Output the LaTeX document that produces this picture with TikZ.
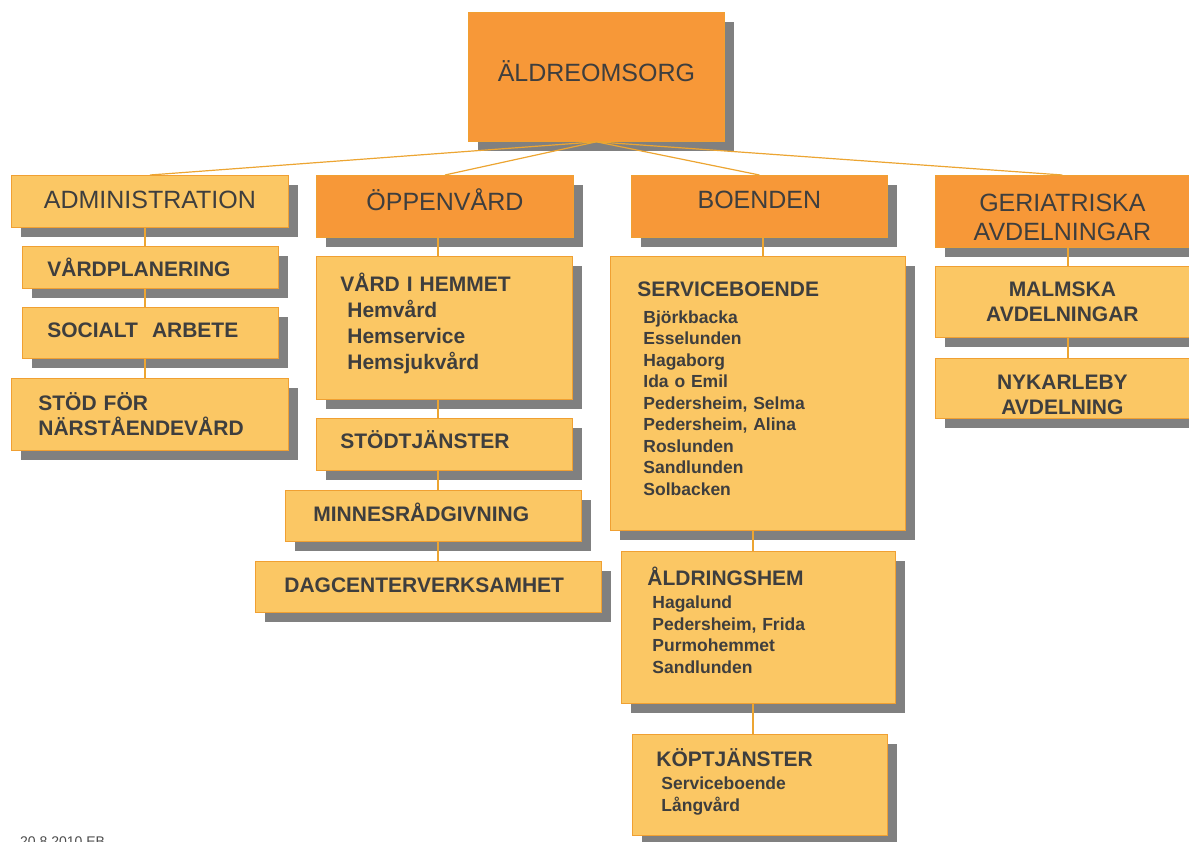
\documentclass[tikz,border=0pt]{standalone}
\usepackage{fontspec}
\setmainfont{Liberation Sans}
\usetikzlibrary{shadows}
\definecolor{darkor}{RGB}{247,152,56}
\definecolor{lightor}{RGB}{251,199,100}
\definecolor{boxline}{RGB}{240,160,50}
\definecolor{linkor}{RGB}{236,165,50}
\definecolor{shade}{RGB}{128,128,128}
\definecolor{txt}{RGB}{62,62,62}
\tikzset{
  box/.style={draw=boxline, line width=0.8pt, text=txt, anchor=north west, inner ysep=0pt,
    drop shadow={shadow xshift=10pt, shadow yshift=-10pt, fill=shade, opacity=1}},
  head/.style={box, fill=darkor, align=center, font=\fontsize{25}{29}\selectfont},
  lhead/.style={head, fill=lightor},
  unit/.style={box, fill=lightor, align=left, font=\fontsize{21}{25}\selectfont\bfseries},
  list/.style={unit, font=\fontsize{17.5}{21.5}\selectfont\bfseries},
  link/.style={draw=linkor, line width=1.2pt},
}
\newcommand{\listhead}[1]{{\fontsize{21}{25}\selectfont #1}}
\newcommand{\lowstrut}[1]{\rule[-#1]{0pt}{#1}}
\begin{document}
\begin{tikzpicture}[x=1pt, y=-1pt]
    \useasboundingbox (0,0) rectangle (1189,841);
    % top level
    \node[head, minimum width=256pt, minimum height=129pt, text depth=12pt] (aldre) at (468,12) {ÄLDREOMSORG};
    \node[lhead, minimum width=277pt, minimum height=52pt, text depth=4pt] (adm) at (11,175) {ADMINISTRATION};
    \node[head, minimum width=257pt, minimum height=62pt, text depth=14pt] (oppen) at (316,175) {ÖPPENVÅRD};
    \node[head, minimum width=256pt, minimum height=62pt, text depth=14pt] (boenden) at (631,175) {BOENDEN};
    \node[head, minimum width=254pt, minimum height=72pt] (geri) at (935,175) {\rule{0pt}{30pt}GERIATRISKA\\AVDELNINGAR};
    % administration
    \node[unit, text width=206pt, inner xsep=25pt, minimum height=42pt] (vpl) at (22,246) {VÅRDPLANERING};
    \node[unit, text width=206pt, inner xsep=25pt, minimum height=51pt, text depth=6pt] (soc) at (22,307) {SOCIALT\ \ ARBETE};
    \node[unit, text width=223pt, inner xsep=27pt, minimum height=72pt] (stod) at (11,378) {STÖD FÖR\\NÄRSTÅENDEVÅRD};
    % öppenvård
    \node[unit, text width=208pt, inner xsep=24pt, minimum height=143pt, font=\fontsize{21}{26}\selectfont\bfseries] (hem) at (316,256)
        {VÅRD I HEMMET\\\hspace*{7pt}Hemvård\\\hspace*{7pt}Hemservice\\\hspace*{7pt}Hemsjukvård\lowstrut{12.5pt}};
    \node[unit, text width=208pt, inner xsep=24pt, minimum height=52pt, text depth=10pt] (stj) at (316,418) {STÖDTJÄNSTER};
    \node[unit, text width=240pt, inner xsep=28pt, minimum height=51pt, text depth=8pt] (minne) at (285,490) {MINNESRÅDGIVNING};
    \node[unit, text width=288pt, inner xsep=29pt, minimum height=51pt, text depth=4pt] (dag) at (255,561) {DAGCENTERVERKSAMHET};
    % boenden
    \node[list, text width=241pt, inner xsep=27pt, minimum height=274pt] (serv) at (610,256)
        {\listhead{SERVICEBOENDE}\\[5.5pt]\hspace*{6pt}Björkbacka\\\hspace*{6pt}Esselunden\\\hspace*{6pt}Hagaborg\\
         \hspace*{6pt}Ida o Emil\\\hspace*{6pt}Pedersheim, Selma\\\hspace*{6pt}Pedersheim, Alina\\
         \hspace*{6pt}Roslunden\\\hspace*{6pt}Sandlunden\\\hspace*{6pt}Solbacken\lowstrut{10pt}};
    \node[list, text width=222pt, inner xsep=26pt, minimum height=152pt] (aldr) at (621,551)
        {\listhead{ÅLDRINGSHEM}\\[1.5pt]\hspace*{5pt}Hagalund\\\hspace*{5pt}Pedersheim, Frida\\
         \hspace*{5pt}Purmohemmet\\\hspace*{5pt}Sandlunden\lowstrut{14pt}};
    \node[list, text width=207pt, inner xsep=24pt, minimum height=101pt] (kop) at (632,734)
        {\listhead{KÖPTJÄNSTER}\\[1.5pt]\hspace*{5pt}Serviceboende\\\hspace*{5pt}Långvård\lowstrut{10pt}};
    % geriatriska
    \node[unit, align=center, text width=214pt, inner xsep=20pt, minimum height=71pt] (malm) at (935,266) {MALMSKA\\AVDELNINGAR};
    \node[unit, align=center, text width=214pt, inner xsep=20pt, minimum height=60pt] (nyk) at (935,358) {\rule{0pt}{27pt}NYKARLEBY\\AVDELNING};
    \node[anchor=base west, inner sep=0pt, text=black!70, font=\fontsize{14}{16}\selectfont] (datum) at (20,846) {20.8.2010 EB};
    % column lines
    \coordinate (acol) at (145,0);
    \coordinate (ocol) at (438,0);
    \coordinate (bcol) at (763,0);
    \coordinate (scol) at (753,0);
    \coordinate (gcol) at (1068,0);
    \foreach \n in {adm,oppen,boenden,geri}
        \draw[link] (aldre.south) -- (\n.north);
    \draw[link] (adm.south -| acol) -- (vpl.north -| acol);
    \draw[link] (vpl.south -| acol) -- (soc.north -| acol);
    \draw[link] (soc.south -| acol) -- (stod.north -| acol);
    \draw[link] (oppen.south -| ocol) -- (hem.north -| ocol);
    \draw[link] (hem.south -| ocol) -- (stj.north -| ocol);
    \draw[link] (stj.south -| ocol) -- (minne.north -| ocol);
    \draw[link] (minne.south -| ocol) -- (dag.north -| ocol);
    \draw[link] (boenden.south -| bcol) -- (serv.north -| bcol);
    \draw[link] (serv.south -| scol) -- (aldr.north -| scol);
    \draw[link] (aldr.south -| scol) -- (kop.north -| scol);
    \draw[link] (geri.south -| gcol) -- (malm.north -| gcol);
    \draw[link] (malm.south -| gcol) -- (nyk.north -| gcol);
\end{tikzpicture}
\end{document}
